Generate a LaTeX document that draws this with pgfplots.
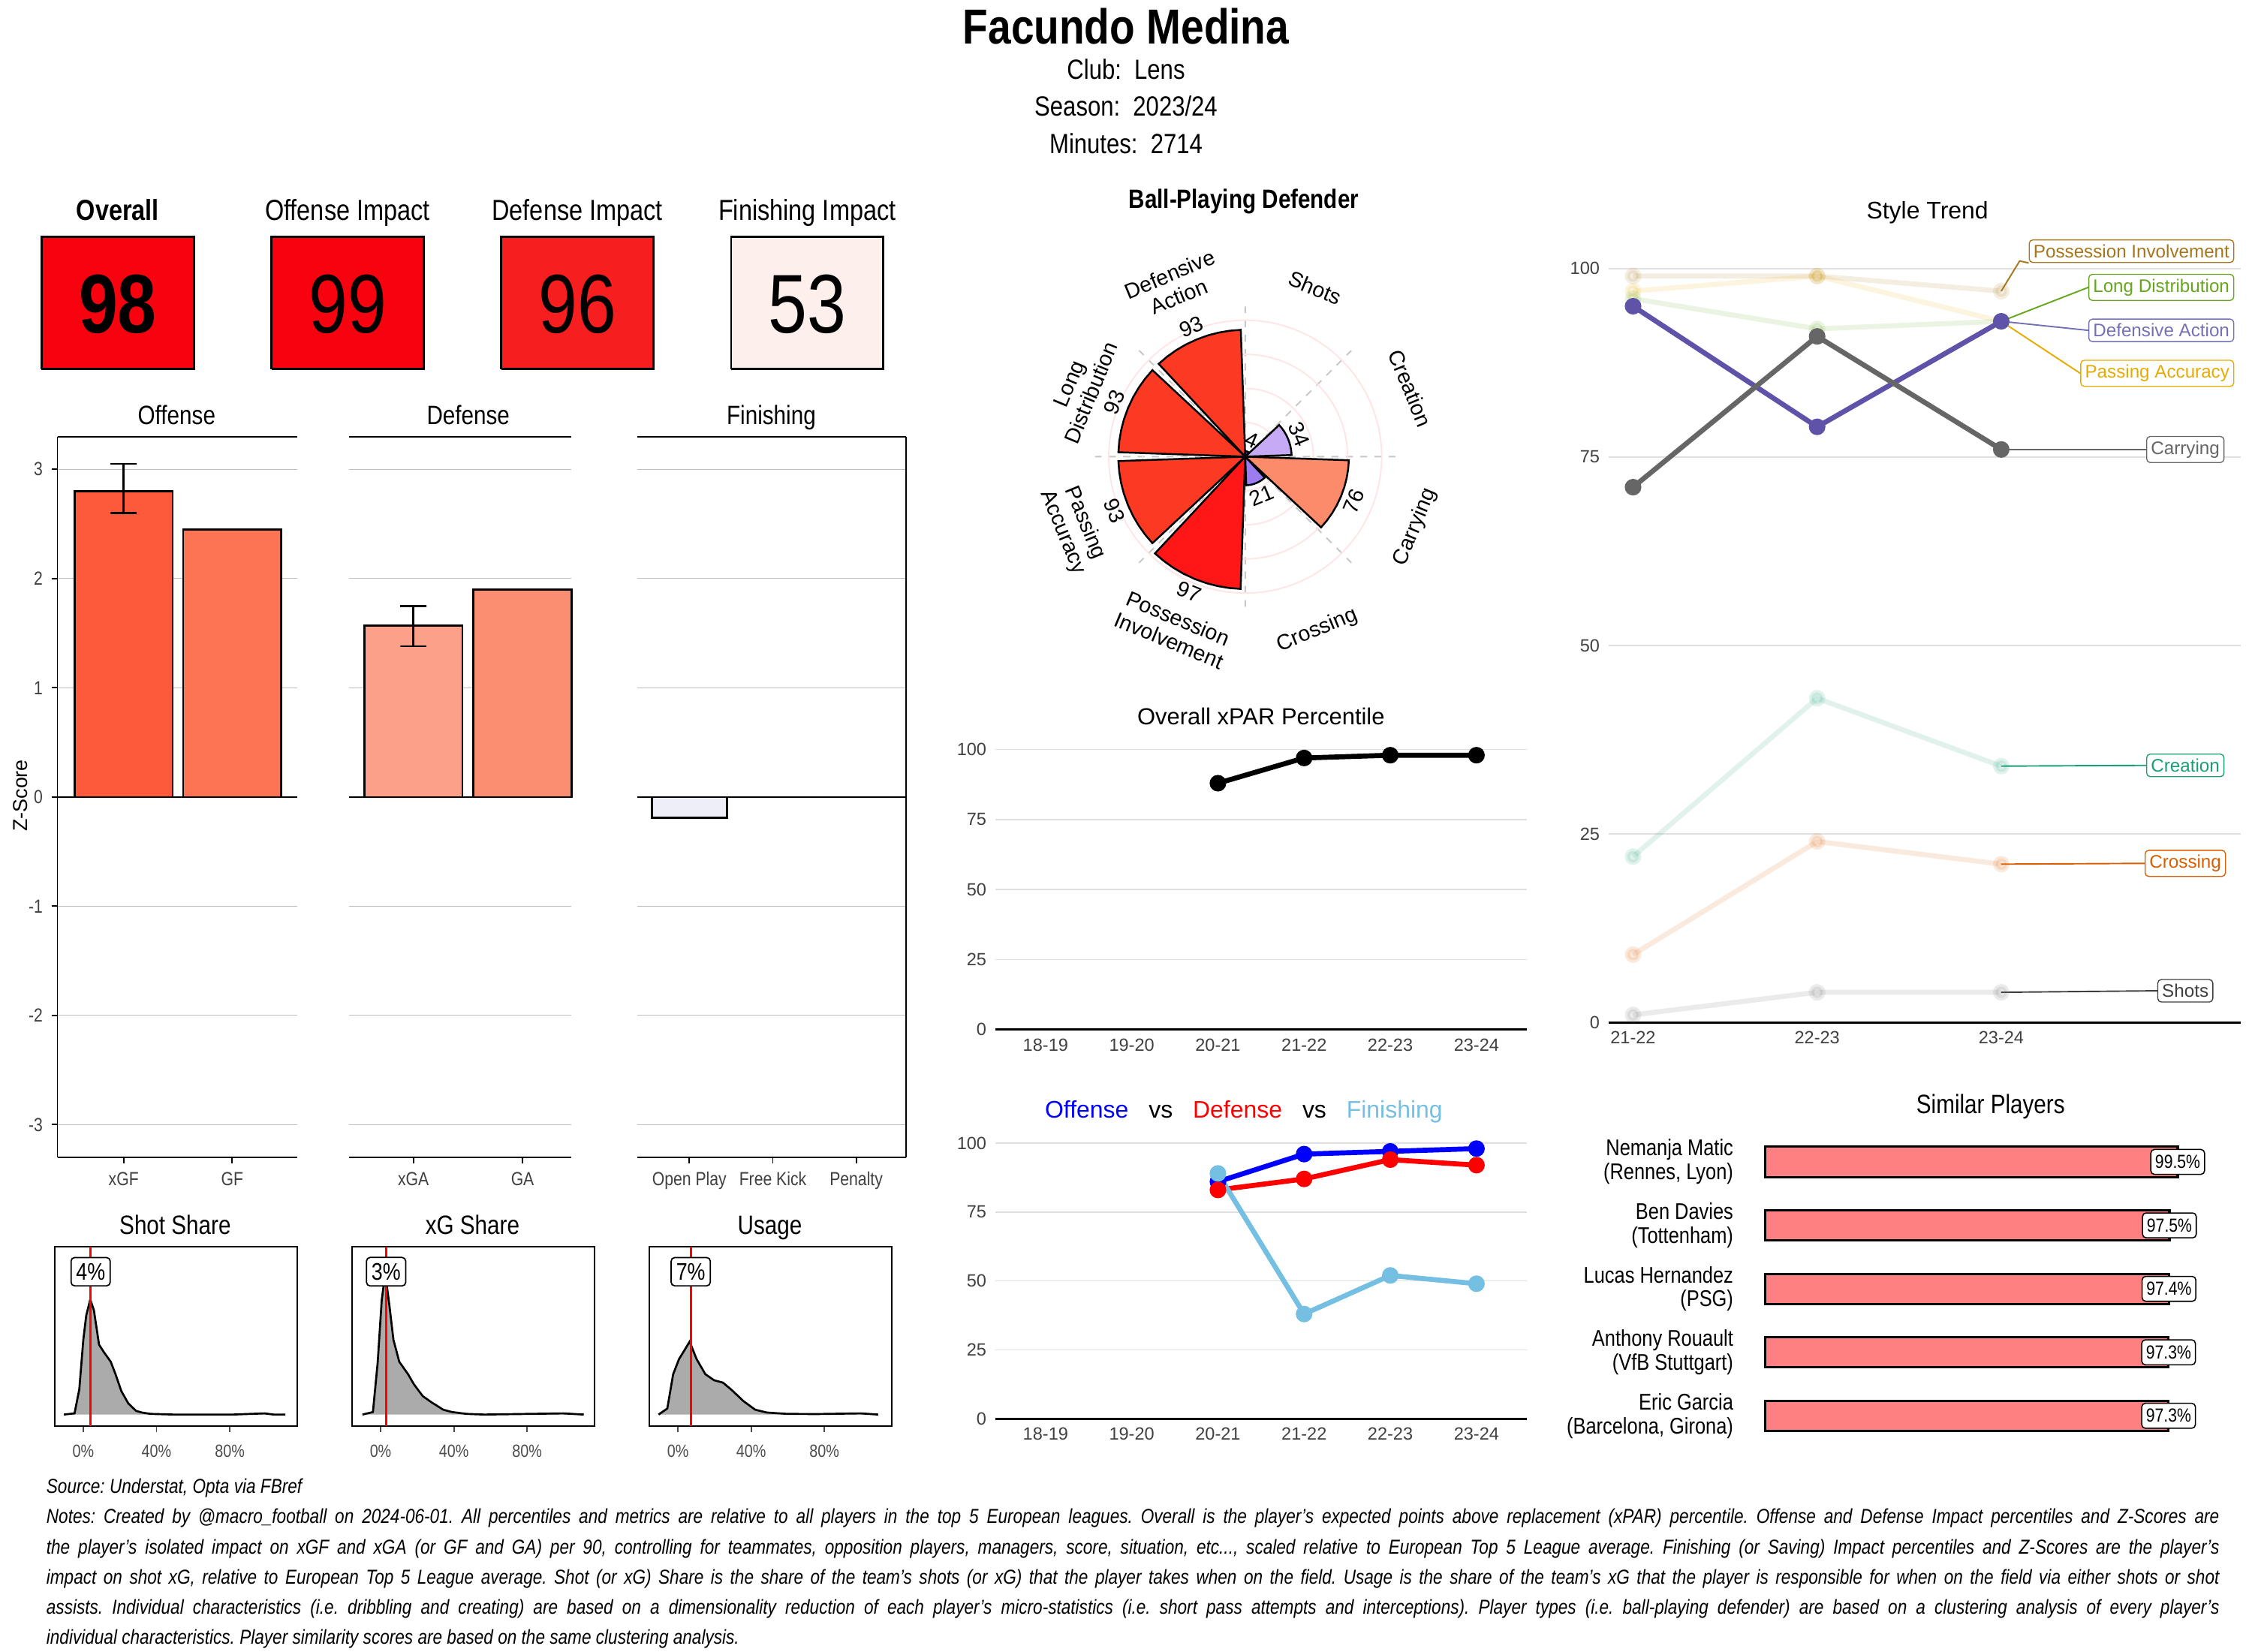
\documentclass[border=0pt]{standalone}
\usepackage{pgfplots}
\pgfplotsset{compat=1.18}
\usepgfplotslibrary{polar}
\usepackage{fontspec}
\setmainfont{Liberation Sans}[FakeStretch=0.84]
\newfontfamily\plain{Liberation Sans}
\newlength\px
\setlength\px{0.2mm}

\definecolor{tA}{HTML}{F6030F}
\definecolor{tC}{HTML}{F61E1E}
\definecolor{tD}{HTML}{FDEFEB}
\definecolor{xgf}{HTML}{FD5A3C}
\definecolor{gf}{HTML}{FD7455}
\definecolor{xga}{HTML}{FCA08A}
\definecolor{ga}{HTML}{FB8E70}
\definecolor{opl}{HTML}{EEEEF8}
\definecolor{grd}{HTML}{BEBEBE}
\definecolor{pr93}{HTML}{FC3A24}
\definecolor{pr97}{HTML}{FF1616}
\definecolor{pr76}{HTML}{FC8B6B}
\definecolor{pr34}{HTML}{C6AAF6}
\definecolor{pr21}{HTML}{9C7CF0}
\definecolor{pr4}{HTML}{6E4FE6}
\definecolor{dteal}{HTML}{1B9E77}
\definecolor{dorange}{HTML}{D95F02}
\definecolor{dpurple}{HTML}{5E53A8}
\definecolor{dlab}{HTML}{7570B3}
\definecolor{dgreen}{HTML}{66A61E}
\definecolor{dgold}{HTML}{E6AB02}
\definecolor{dbrown}{HTML}{A6761D}
\definecolor{dgray}{HTML}{666666}
\definecolor{fin}{HTML}{74BFE2}
\definecolor{simred}{HTML}{FF8080}

\tikzset{
  lab/.style={draw=#1, text=#1, fill=white, rounded corners=2.5\px, inner xsep=3\px, inner ysep=3.2\px,
    font=\plain\fontsize{7.2}{7.5}\selectfont},
  plab/.style={font=\plain\fontsize{8.5}{9.5}\selectfont, align=center, inner sep=0pt},
  pct/.style={draw=black, fill=white, rounded corners=2.5\px, inner xsep=3.5\px, inner ysep=4\px,
    font=\fontsize{9.5}{10}\selectfont, line width=0.9\px},
}

\pgfplotsset{
  /pgf/number format/assume math mode=true,
  bars/.style={anchor=south west, scale only axis, height=502\px, ymin=-3.3, ymax=3.3,
    axis x line*=box, xtick pos=left, ytick={-3,-2,-1,0,1,2,3}, yticklabels={-3,-2,-1,0,1,2,3},
    ymajorgrids, grid style={draw=grd, line width=0.6\px},
    axis line style={-, line width=1\px},
    tick style={black, line width=1\px}, tick align=outside, major tick length=4\px,
    tick label style={font=\fontsize{7.5}{8}\selectfont, text=black!75},
    extra y ticks={0}, extra y tick labels={},
    extra y tick style={grid style={draw=black, line width=1.3\px}, major tick length=0pt},
    clip=false},
  barp/.style={ybar, bar width=0.9, bar shift=0pt, draw=black, line width=1.3\px},
  ebar/.style={black, line width=1.5\px},
  dist/.style={anchor=south west, scale only axis, width=169\px, height=125\px,
    xmin=-15.7, xmax=116.9, ymin=-0.068, ymax=1,
    ytick=\empty, xtick={0,40,80}, xticklabels={0\%,40\%,80\%}, xtick pos=left,
    tick align=outside, major tick length=4\px, tick style={black!70, line width=1\px},
    axis line style={line width=1.2\px},
    tick label style={font=\fontsize{7}{8}\selectfont, text=black!70, yshift=-3\px}, clip=false},
  dens/.style={fill=black!33, draw=black, line width=1.4\px},
  trend/.style={anchor=south west, scale only axis, clip=false,
    axis x line*=bottom, axis y line*=left, y axis line style={draw=none},
    x axis line style={-, line width=1.5\px},
    major tick length=0pt, ymajorgrids, grid style={draw=black!12, line width=0.8\px},
    tick label style={font=\plain\fontsize{7}{8}\selectfont, text=black!75}},
  seas/.style={xmin=0.417, xmax=6.583, ymin=0, ymax=100, width=370\px,
    xtick={1,...,6}, xticklabels={18-19,19-20,20-21,21-22,22-23,23-24}, ytick={0,25,50,75,100}},
  tl/.style={line width=3.5\px, mark=*, mark size=4\px},
}

\begin{document}
\frenchspacing
\begin{tikzpicture}[x=0.2mm,y=0.2mm]
\useasboundingbox (0,0) rectangle (1568,1150);

% ---- header ----
\node[anchor=base, font=\bfseries\fontsize{19.5}{20}\selectfont] at (784,1119.5) {Facundo Medina};
\node[anchor=base, font=\fontsize{11}{12}\selectfont] at (784,1095) {Club:\ \ Lens};
\node[anchor=base, font=\fontsize{11}{12}\selectfont] at (784,1069) {Season:\ \ 2023/24};
\node[anchor=base, font=\fontsize{11}{12}\selectfont] at (784,1043) {Minutes:\ \ 2714};

% ---- tiles ----
\node[anchor=base, font=\bfseries\fontsize{11.5}{12}\selectfont] at (82,996.5) {Overall};
\node[anchor=base, font=\fontsize{11.5}{12}\selectfont] at (242,996.5) {Offense Impact};
\node[anchor=base, font=\fontsize{11.5}{12}\selectfont] at (402,996.5) {Defense Impact};
\node[anchor=base, font=\fontsize{11.5}{12}\selectfont] at (562,996.5) {Finishing Impact};
\begin{axis}[anchor=south west, at={(29\px,893\px)}, scale only axis, width=586\px, height=92\px,
  xmin=29, xmax=615, ymin=893, ymax=985, hide axis, clip=false]
\addplot[fill=tA, draw=black, line width=1.3\px] coordinates {(29,893) (135,893) (135,985) (29,985) (29,893)};
\addplot[fill=tA, draw=black, line width=1.3\px] coordinates {(189,893) (295,893) (295,985) (189,985) (189,893)};
\addplot[fill=tC, draw=black, line width=1.3\px] coordinates {(349,893) (455,893) (455,985) (349,985) (349,893)};
\addplot[fill=tD, draw=black, line width=1.3\px] coordinates {(509,893) (615,893) (615,985) (509,985) (509,893)};
\end{axis}
\node[anchor=base, font=\bfseries\fontsize{33}{34}\selectfont] at (82,918) {98};
\node[anchor=base, font=\fontsize{33}{34}\selectfont] at (242,918) {99};
\node[anchor=base, font=\fontsize{33}{34}\selectfont] at (402,918) {96};
\node[anchor=base, font=\fontsize{33}{34}\selectfont] at (562,918) {53};

% ---- z-score bars ----
\node[anchor=base, font=\fontsize{10.5}{11}\selectfont] at (123,854.5) {Offense};
\node[anchor=base, font=\fontsize{10.5}{11}\selectfont] at (326,854.5) {Defense};
\node[anchor=base, font=\fontsize{10.5}{11}\selectfont] at (537,854.5) {Finishing};
\node[rotate=90, font=\plain\fontsize{8}{9}\selectfont] at (14,596) {Z-Score};

\begin{axis}[bars, at={(40\px,344\px)}, width=167\px, xmin=0.39, xmax=2.6,
  axis y line*=left, xtick={1,2}, xticklabels={xGF,GF}]
\addplot[barp, fill=xgf] coordinates {(1,2.8)};
\addplot[barp, fill=gf] coordinates {(2,2.45)};
% error bar: 2.6 to 3.05
\addplot[ebar] coordinates {(0.88,3.05) (1.12,3.05) (1,3.05) (1,2.6) (0.88,2.6) (1.12,2.6)};
\end{axis}

\begin{axis}[bars, at={(243\px,344\px)}, width=155\px, xmin=0.41, xmax=2.45,
  axis y line*=left, y axis line style={draw=none}, yticklabels={},
  ytick style={draw=none}, xtick={1,2}, xticklabels={xGA,GA}]
\addplot[barp, fill=xga] coordinates {(1,1.57)};
\addplot[barp, fill=ga] coordinates {(2,1.9)};
% error bar: 1.38 to 1.75
\addplot[ebar] coordinates {(0.88,1.75) (1.12,1.75) (1,1.75) (1,1.38) (0.88,1.38) (1.12,1.38)};
\end{axis}

\begin{axis}[bars, at={(444\px,344\px)}, width=187\px, xmin=0.38, xmax=3.6,
  axis y line*=right, yticklabels={}, ytick style={draw=none},
  xtick={1,2,3}, xticklabels={Open Play,Free Kick,Penalty}]
\addplot[barp, fill=opl] coordinates {(1,-0.19) (2,0) (3,0)};
\end{axis}

% ---- share densities ----
\node[anchor=base, font=\fontsize{10.5}{11}\selectfont] at (122,290.5) {Shot Share};
\node[anchor=base, font=\fontsize{10.5}{11}\selectfont] at (329,290.5) {xG Share};
\node[anchor=base, font=\fontsize{10.5}{11}\selectfont] at (536,290.5) {Usage};

\begin{axis}[dist, at={(38\px,157\px)}]
\addplot[dens] coordinates {(-10.6,0) (-4.8,0.007) (-2.2,0.15) (0,0.445) (1.6,0.59) (3.8,0.686)
  (5.8,0.62) (8.6,0.416) (11.2,0.372) (15,0.314) (17.6,0.24) (20.8,0.139) (24.6,0.066)
  (28.8,0.022) (32,0.012) (36.8,0.004) (49.6,0) (81.6,0) (99,0.007) (104,0) (110.4,0)};
\addplot[red, line width=1.4\px] coordinates {(4,-0.068) (4,1)};
\node[pct] at (axis cs:4,0.85) {4\%};
\end{axis}

\begin{axis}[dist, at={(245\px,157\px)}]
\addplot[dens] coordinates {(-9.9,0) (-4.2,0.015) (-1.6,0.31) (0.6,0.68) (2.5,0.84) (4.8,0.65)
  (7,0.445) (10.2,0.314) (15,0.24) (18.2,0.18) (23,0.11) (27.8,0.073) (34.2,0.029) (39,0.015)
  (47,0.004) (56.6,0) (99.8,0.007) (111,0)};
\addplot[red, line width=1.4\px] coordinates {(3,-0.068) (3,1)};
\node[pct] at (axis cs:3,0.85) {3\%};
\end{axis}

\begin{axis}[dist, at={(452\px,157\px)}]
\addplot[dens] coordinates {(-10.6,0) (-5.8,0.036) (-2.6,0.24) (0.6,0.33) (3.8,0.387) (6.4,0.434)
  (10.2,0.33) (15,0.24) (19.8,0.204) (24.6,0.19) (29.4,0.146) (35.8,0.08) (42.2,0.029)
  (48.6,0.012) (59.8,0.004) (75.8,0.003) (99.8,0.007) (109.4,0)};
\addplot[red, line width=1.4\px] coordinates {(7,-0.068) (7,1)};
\node[pct] at (axis cs:7,0.85) {7\%};
\end{axis}

% ---- player type polar ----
\node[anchor=base, font=\bfseries\fontsize{10.5}{11}\selectfont] at (866,1005) {Ball-Playing Defender};
\begin{polaraxis}[at={(867\px,832\px)}, anchor=center, scale only axis, width=209\px, height=209\px,
  ymin=0, ymax=110, xtick={0,45,...,315}, ytick={25,50,75,100},
  xticklabels={}, yticklabels={}, major tick length=0pt,
  axis line style={draw=none}, xmajorgrids, ymajorgrids,
  x grid style={dash pattern=on 5\px off 5\px, draw=black!22, line width=1\px},
  y grid style={draw=red!10, line width=1\px}, clip=false]
\addplot[fill=pr93, draw=black, line width=1.3\px] coordinates {(0,0) (92,93) (97,93) (102,93) (107,93) (112.5,93) (118,93) (123,93) (128,93) (133,93) (0,0)};
\addplot[fill=pr93, draw=black, line width=1.3\px] coordinates {(0,0) (137,93) (142,93) (147,93) (152,93) (157.5,93) (163,93) (168,93) (173,93) (178,93) (0,0)};
\addplot[fill=pr93, draw=black, line width=1.3\px] coordinates {(0,0) (182,93) (187,93) (192,93) (197,93) (202.5,93) (208,93) (213,93) (218,93) (223,93) (0,0)};
\addplot[fill=pr97, draw=black, line width=1.3\px] coordinates {(0,0) (227,97) (232,97) (237,97) (242,97) (247.5,97) (253,97) (258,97) (263,97) (268,97) (0,0)};
\addplot[fill=pr21, draw=black, line width=1.3\px] coordinates {(0,0) (272,21) (277,21) (282,21) (287,21) (292.5,21) (298,21) (303,21) (308,21) (313,21) (0,0)};
\addplot[fill=pr76, draw=black, line width=1.3\px] coordinates {(0,0) (317,76) (322,76) (327,76) (332,76) (337.5,76) (343,76) (348,76) (353,76) (358,76) (0,0)};
\addplot[fill=pr34, draw=black, line width=1.3\px] coordinates {(0,0) (2,34) (7,34) (12,34) (17,34) (22.5,34) (28,34) (33,34) (38,34) (43,34) (0,0)};
\addplot[fill=pr4, draw=black, line width=1.3\px] coordinates {(0,0) (47,4) (52,4) (57,4) (62,4) (67.5,4) (73,4) (78,4) (83,4) (88,4) (0,0)};
\node[plab, rotate=22.5] at (axis cs:112.5,103) {93};
\node[plab, rotate=67.5] at (axis cs:157.5,104) {93};
\node[plab, rotate=-67.5] at (axis cs:202.5,104) {93};
\node[plab, rotate=-22.5] at (axis cs:247.5,107) {97};
\node[plab, rotate=22.5] at (axis cs:292.5,31) {21};
\node[plab, rotate=67.5] at (axis cs:337.5,86) {76};
\node[plab, rotate=-67.5] at (axis cs:22.5,43) {34};
\node[plab, rotate=-22.5] at (axis cs:67.5,13) {4};
\node[plab, rotate=-22.5] at (axis cs:67.5,134) {Shots};
\node[plab, rotate=-67.5] at (axis cs:22.5,131) {Creation};
\node[plab, rotate=67.5] at (axis cs:-22.5,135) {Carrying};
\node[plab, rotate=22.5] at (axis cs:-67.5,138) {Crossing};
\node[plab, rotate=-22.5] at (axis cs:247.5,137) {Possession\\Involvement};
\node[plab, rotate=-67.5] at (axis cs:202.5,136) {Passing\\Accuracy};
\node[plab, rotate=67.5] at (axis cs:157.5,131) {Long\\Distribution};
\node[plab, rotate=22.5] at (axis cs:112.5,136) {Defensive\\Action};
\end{polaraxis}

% ---- style trend ----
\node[anchor=base, font=\plain\fontsize{9.5}{10}\selectfont] at (1342,997.5) {Style Trend};
\begin{axis}[trend, at={(1120\px,438\px)}, width=440\px, height=546\px,
  xmin=0.867, xmax=4.30, ymin=0, ymax=104,
  xtick={1,2,3}, xticklabels={21-22,22-23,23-24}, ytick={0,25,50,75,100}]
\addplot[tl, dbrown, opacity=0.13] coordinates {(1,99) (2,99) (3,97)};
\addplot[tl, dgold, opacity=0.13] coordinates {(1,97) (2,99) (3,93)};
\addplot[tl, dgreen, opacity=0.13] coordinates {(1,96) (2,92) (3,93)};
\addplot[tl, dteal, opacity=0.13] coordinates {(1,22) (2,43) (3,34)};
\addplot[tl, dorange, opacity=0.13] coordinates {(1,9) (2,24) (3,21)};
\addplot[tl, dgray, opacity=0.13] coordinates {(1,1) (2,4) (3,4)};
\addplot[tl, dpurple] coordinates {(1,95) (2,79) (3,93)};
\addplot[tl, dgray] coordinates {(1,71) (2,91) (3,76)};
\node[lab=dbrown, anchor=east] (pi) at (axis cs:4.266,102.3) {Possession Involvement};
\node[lab=dgreen, anchor=east] (ld) at (axis cs:4.266,97.5) {Long Distribution};
\node[lab=dlab, anchor=east] (da) at (axis cs:4.266,91.8) {Defensive Action};
\node[lab=dgold, anchor=east] (pa) at (axis cs:4.266,86.1) {Passing Accuracy};
\node[lab=dgray] (ca) at (axis cs:4.0,76) {Carrying};
\node[lab=dteal] (cr) at (axis cs:4.0,34.1) {Creation};
\node[lab=dorange] (cx) at (axis cs:4.0,21.1) {Crossing};
\node[lab=black!75] (sh) at (axis cs:4.0,4.2) {Shots};
\draw[dbrown, line width=1\px] (axis cs:3,97) -- (axis cs:3.1,101) -- (pi.south west);
\draw[dgreen, line width=1\px] (axis cs:3,93) -- (ld.west);
\draw[dlab, line width=1\px] (axis cs:3,93) -- (da.west);
\draw[dgold, line width=1\px] (axis cs:3,93) -- (pa.west);
\draw[dgray, line width=1\px] (axis cs:3,76) -- (ca.west);
\draw[dteal, line width=1\px] (axis cs:3,34) -- (cr.west);
\draw[dorange, line width=1\px] (axis cs:3,21) -- (cx.west);
\draw[black!75, line width=1\px] (axis cs:3,4) -- (sh.west);
\end{axis}

% ---- overall xPAR ----
\node[anchor=base, font=\plain\fontsize{9.2}{10}\selectfont] at (878,645.5) {Overall xPAR Percentile};
\begin{axis}[trend, seas, at={(693\px,433\px)}, height=195\px]
\addplot[tl, black] coordinates {(3,88) (4,97) (5,98) (6,98)};
\end{axis}

% ---- offense vs defense vs finishing ----
\node[anchor=base, font=\plain\fontsize{9.5}{10}\selectfont] at (866,371.5)
  {{\color{blue}Offense}\hspace{8pt}vs\hspace{8pt}{\color{red}Defense}\hspace{8pt}vs\hspace{8pt}{\color{fin}Finishing}};
\begin{axis}[trend, seas, at={(693\px,162\px)}, height=192\px]
\addplot[tl, blue] coordinates {(3,86) (4,96) (5,97) (6,98)};
\addplot[tl, red] coordinates {(3,83) (4,87) (5,94) (6,92)};
\addplot[tl, fin] coordinates {(3,89) (4,38) (5,52) (6,49)};
\end{axis}

% ---- similar players ----
\node[anchor=base, font=\fontsize{10.5}{11}\selectfont] at (1386,374.5) {Similar Players};
\begin{axis}[anchor=south west, at={(1229\px,142\px)}, scale only axis, width=332\px, height=221\px,
  xmin=0, xmax=115, ymin=0.5, ymax=5.5, clip=false,
  axis line style={draw=none}, xtick=\empty, ytick={1,...,5}, major tick length=0pt,
  yticklabels={{Eric Garcia\\(Barcelona, Girona)},{Anthony Rouault\\(VfB Stuttgart)},{Lucas Hernandez\\(PSG)},{Ben Davies\\(Tottenham)},{Nemanja Matic\\(Rennes, Lyon)}},
  yticklabel style={align=right, font=\fontsize{9}{9.5}\selectfont, xshift=-16\px}]
\addplot[xbar, bar width=0.475, fill=simred, draw=black, line width=1.6\px, point meta=x,
  nodes near coords={\pgfmathprintnumber[fixed,fixed zerofill,precision=1]{\pgfplotspointmeta}\%},
  every node near coord/.append style={anchor=center, draw=black, fill=white, rounded corners=2.5\px,
    font=\fontsize{7.5}{8}\selectfont, inner xsep=3\px, inner ysep=4\px, text=black, line width=0.8\px}]
  coordinates {(99.5,5) (97.5,4) (97.4,3) (97.3,2) (97.3,1)};
\end{axis}

% ---- notes ----
\begin{scope}[every node/.style={anchor=base west, inner sep=0pt, font=\itshape\fontsize{8}{9}\selectfont}]
\node at (32,110) {Source: Understat, Opta via FBref};
\node at (32,89) {\makebox[1513\px][s]{Notes: Created by @macro\_football on 2024-06-01. All percentiles and metrics are relative to all players in the top 5 European leagues. Overall is the player's expected points above replacement (xPAR) percentile. Offense and Defense Impact percentiles and Z-Scores are}};
\node at (32,68) {\makebox[1513\px][s]{the player's isolated impact on xGF and xGA (or GF and GA) per 90, controlling for teammates, opposition players, managers, score, situation, etc..., scaled relative to European Top 5 League average. Finishing (or Saving) Impact percentiles and Z-Scores are the player's}};
\node at (32,47) {\makebox[1513\px][s]{impact on shot xG, relative to European Top 5 League average. Shot (or xG) Share is the share of the team's shots (or xG) that the player takes when on the field. Usage is the share of the team's xG that the player is responsible for when on the field via either shots or shot}};
\node at (32,26) {\makebox[1513\px][s]{assists. Individual characteristics (i.e. dribbling and creating) are based on a dimensionality reduction of each player's micro-statistics (i.e. short pass attempts and interceptions). Player types (i.e. ball-playing defender) are based on a clustering analysis of every player's}};
\node at (32,5) {individual characteristics. Player similarity scores are based on the same clustering analysis.};
\end{scope}
\end{tikzpicture}
\end{document}
